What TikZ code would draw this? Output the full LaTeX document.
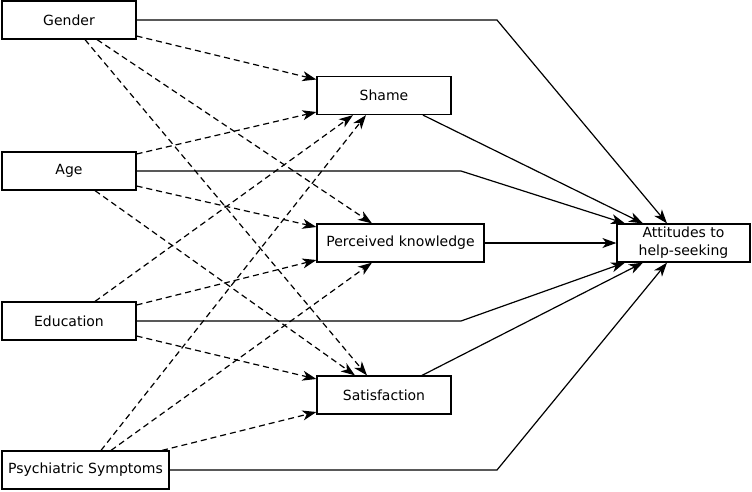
\documentclass[tikz,border=0pt]{standalone}
\usepackage{fontspec}
\setmainfont{DejaVu Sans}
\usetikzlibrary{arrows.meta}

\begin{document}
\begin{tikzpicture}[x=1pt,y=-1pt,>={Stealth[length=14pt,width=10pt,inset=4pt]},line width=1.2pt,
	caixa/.style={draw,fill=white,minimum width=134pt,minimum height=38pt,inner sep=1pt,align=center,font=\fontsize{14}{18}\selectfont},
	tracejada/.style={->,dash pattern=on 6pt off 4pt}]
	\useasboundingbox (0,0) rectangle (752,491);
	% caixas
	\node[caixa] (gender) at (69,20) {Gender};
	\node[caixa] (age) at (69,171) {Age};
	\node[caixa] (education) at (69,321) {Education};
	\node[caixa,minimum width=167pt] (symptoms) at (85.5,470) {Psychiatric Symptoms};
	\node[caixa] (shame) at (384,95.5) {Shame};
	\node[caixa,minimum width=167pt] (knowledge) at (400.5,243) {Perceived knowledge};
	\node[caixa] (satisfaction) at (384,395) {Satisfaction};
	\node[caixa,minimum width=133pt,inner sep=0pt] (attitudes) at (683.5,243) {Attitudes to\\help-seeking};
	% pontos de quebra
	\coordinate (kG) at (497,20);
	\coordinate (kA) at (461,171);
	\coordinate (kE) at (461,321);
	\coordinate (kP) at (497,470);
	% efeitos diretos
	\draw[->] (gender.east) -- (kG) -- ([xshift=-16.5pt]attitudes.north);
	\draw[->] ([xshift=39pt]shame.south) -- ([xshift=-40.5pt]attitudes.north);
	\draw[->] (age.east) -- (kA) -- ([xshift=-58.5pt]attitudes.north);
	\draw[->] (knowledge.east) -- (attitudes.west);
	\draw[->] (education.east) -- (kE) -- ([xshift=-58.5pt]attitudes.south);
	\draw[->] ([xshift=38pt]satisfaction.north) -- ([xshift=-40.5pt]attitudes.south);
	\draw[->] (symptoms.east) -- (kP) -- ([xshift=-16.5pt]attitudes.south);
	% efeitos indiretos
	\draw[tracejada] ([yshift=-16pt]gender.east) -- ([yshift=16pt]shame.west);
	\draw[tracejada] ([xshift=28pt]gender.south) -- ([xshift=-28.5pt]knowledge.north);
	\draw[tracejada] ([xshift=16pt]gender.south) -- ([xshift=-17pt]satisfaction.north);
	\draw[tracejada] ([yshift=17pt]age.east) -- ([yshift=-16.5pt]shame.west);
	\draw[tracejada] ([yshift=-15pt]age.east) -- ([yshift=16pt]knowledge.west);
	\draw[tracejada] ([xshift=26pt]age.south) -- ([xshift=-29pt]satisfaction.north);
	\draw[tracejada] ([xshift=26pt]education.north) -- ([xshift=-31pt]shame.south);
	\draw[tracejada] ([yshift=16pt]education.east) -- ([yshift=-17pt]knowledge.west);
	\draw[tracejada] ([yshift=-15pt]education.east) -- ([yshift=16pt]satisfaction.west);
	\draw[tracejada] ([xshift=15.5pt]symptoms.north) -- ([xshift=-18pt]shame.south);
	\draw[tracejada] ([xshift=25.5pt]symptoms.north) -- ([xshift=-28.5pt]knowledge.south);
	\draw[tracejada] ([xshift=76.5pt]symptoms.north) -- ([yshift=-17pt]satisfaction.west);
\end{tikzpicture}
\end{document}
